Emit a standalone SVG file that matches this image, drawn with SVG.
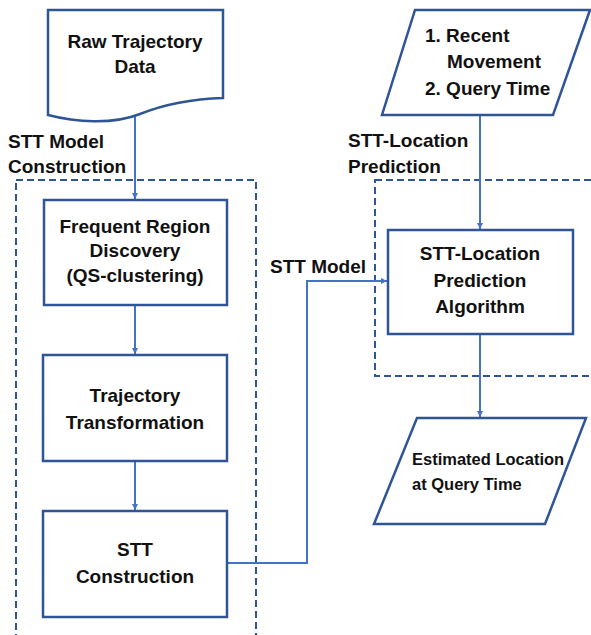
<svg xmlns="http://www.w3.org/2000/svg" width="591" height="635" viewBox="0 0 591 635">
<defs>
<marker id="ah" viewBox="0 0 10 10" refX="10" refY="5" markerWidth="6" markerHeight="6" orient="auto" markerUnits="userSpaceOnUse">
<path d="M0,0 L10,5 L0,10 z" fill="#4472C4"/>
</marker>
<style>
.node{fill:#fff;stroke:#2F5597;stroke-width:2.5}
.dash{fill:none;stroke:#2F5597;stroke-width:2;stroke-dasharray:7,4}
.conn{fill:none;stroke:#4472C4;stroke-width:2}
.t{font-family:"Liberation Sans",Arial,sans-serif;font-weight:bold;font-size:19px;fill:#111;text-anchor:middle}
.l{font-family:"Liberation Sans",Arial,sans-serif;font-weight:bold;font-size:19px;fill:#111}
.s{font-family:"Liberation Sans",Arial,sans-serif;font-weight:bold;font-size:16.5px;fill:#111}
</style>
</defs>
<rect width="591" height="635" fill="#fff"/>
<g id="groups">
<rect class="dash" x="16" y="180" width="240" height="480"/>
<rect class="dash" x="375" y="180" width="240" height="196"/>
<text class="l" x="8" y="148">STT Model</text>
<text class="l" x="8" y="173">Construction</text>
<text class="l" x="348" y="147">STT-Location</text>
<text class="l" x="348" y="173">Prediction</text>
</g>
<g id="connectors">
<line class="conn" x1="135" y1="117" x2="135" y2="199" marker-end="url(#ah)"/>
<line class="conn" x1="135" y1="305" x2="135" y2="354" marker-end="url(#ah)"/>
<line class="conn" x1="135" y1="461" x2="135" y2="510" marker-end="url(#ah)"/>
<polyline class="conn" points="227,563 307,563 307,281 387,281" marker-end="url(#ah)"/>
<line class="conn" x1="480" y1="115" x2="480" y2="229" marker-end="url(#ah)"/>
<line class="conn" x1="480" y1="334" x2="480" y2="417" marker-end="url(#ah)"/>
<text class="l" x="270" y="273">STT Model</text>
</g>
<g id="raw">
<path class="node" d="M48,10 L223,10 L223,98 C190,99 165,104 140,114 C112,125 75,122 48,115 Z"/>
<text class="t" x="135" y="48">Raw Trajectory</text>
<text class="t" x="135" y="73">Data</text>
</g>
<g id="frequent">
<rect class="node" x="44" y="200" width="183" height="105"/>
<text class="t" x="135" y="233">Frequent Region</text>
<text class="t" x="135" y="257">Discovery</text>
<text class="t" x="135" y="282">(QS-clustering)</text>
</g>
<g id="transform">
<rect class="node" x="43" y="355" width="184" height="106"/>
<text class="t" x="135" y="402">Trajectory</text>
<text class="t" x="135" y="429">Transformation</text>
</g>
<g id="stt">
<rect class="node" x="43" y="511" width="184" height="106"/>
<text class="t" x="135" y="556">STT</text>
<text class="t" x="135" y="583">Construction</text>
</g>
<g id="input">
<path class="node" d="M415,10 L590,10 L553,115 L382,115 Z"/>
<text class="l" x="425" y="42">1. Recent</text>
<text class="l" x="447" y="68">Movement</text>
<text class="l" x="425" y="95">2. Query Time</text>
</g>
<g id="algo">
<rect class="node" x="388" y="230" width="185" height="104"/>
<text class="t" x="480" y="260">STT-Location</text>
<text class="t" x="480" y="287">Prediction</text>
<text class="t" x="480" y="313">Algorithm</text>
</g>
<g id="output">
<path class="node" d="M417,418 L586,418 L545,524 L374,524 Z"/>
<text class="s" x="412" y="465">Estimated Location</text>
<text class="s" x="412" y="490">at Query Time</text>
</g>
</svg>
